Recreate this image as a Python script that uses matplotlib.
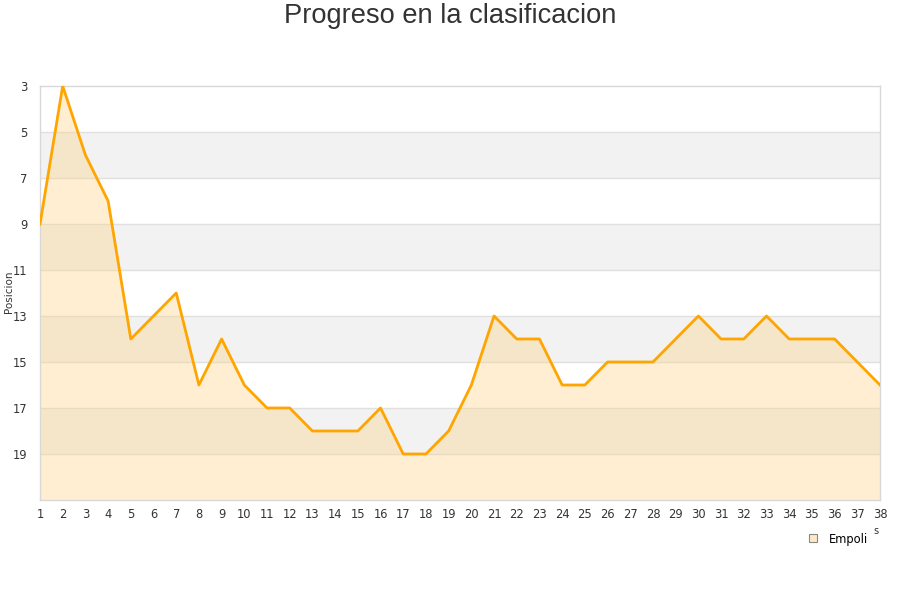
import matplotlib
matplotlib.use("Agg")
import matplotlib.pyplot as plt
from matplotlib.lines import Line2D

jornadas = list(range(1, 39))
posiciones = [9, 3, 6, 8, 14, 13, 12, 16, 14, 16, 17, 17, 18, 18, 18, 17, 19, 19, 18, 16,
              13, 14, 14, 16, 16, 15, 15, 15, 14, 13, 14, 14, 13, 14, 14, 14, 15, 16]
y_ticks = [3, 5, 7, 9, 11, 13, 15, 17, 19]
equipo = "Empoli"
titulo = "Progreso en la clasificacion"
y_label = "Posicion"

plt.rcParams['font.family'] = ['DejaVu Sans']
fig = plt.figure(figsize=(9, 6), dpi=100)
ax = fig.add_axes([40/900, 1-500/600, 840/900, 414/600])

ymin, ymax = 3, 21
# alternating bands
for b in range(ymin, ymax, 2):
    if ((b - ymin) // 2) % 2 == 1:
        ax.axhspan(b, b + 2, color='#f2f2f2', zorder=0, lw=0)
for t in y_ticks[1:]:
    ax.axhline(t, color='#e0e0e0', lw=1, zorder=1)

ax.fill_between(jornadas, posiciones, ymax, color='#ffd488', alpha=0.38, lw=0, zorder=2)
ax.plot(jornadas, posiciones, color='#ffa500', lw=2.0, zorder=3)

ax.set_xlim(1, 38)
ax.set_ylim(ymax, ymin)
ax.set_yticks(y_ticks)
ax.set_xticks(jornadas)
ax.tick_params(length=0, labelsize=8.3, colors='#333333', pad=6)
ax.tick_params(axis='y', pad=9)
for s in ax.spines.values():
    s.set_color('#d8d8d8')
    s.set_linewidth(1)
fig.text(9/900, 1-292/600, y_label, rotation=90, ha='center', va='center',
         fontsize=7.5, color='#333333')

fig.text(0.5, 1-16/600, titulo, ha='center', va='center', fontsize=19.6,
         color='#333333', family='Liberation Sans')

handle = Line2D([], [], marker='s', linestyle='none', markersize=6,
                markerfacecolor='#fde9c4', markeredgecolor='#888888', markeredgewidth=0.8)
fig.legend([handle], [equipo], loc='center left', bbox_to_anchor=(797/900, 1-539/600),
           frameon=False, fontsize=8.3, handletextpad=0.4, borderaxespad=0)
fig.text(876/900, 1-531/600, 's', ha='center', va='center', fontsize=7, color='#333333')

fig.savefig('out.png', dpi=100)
